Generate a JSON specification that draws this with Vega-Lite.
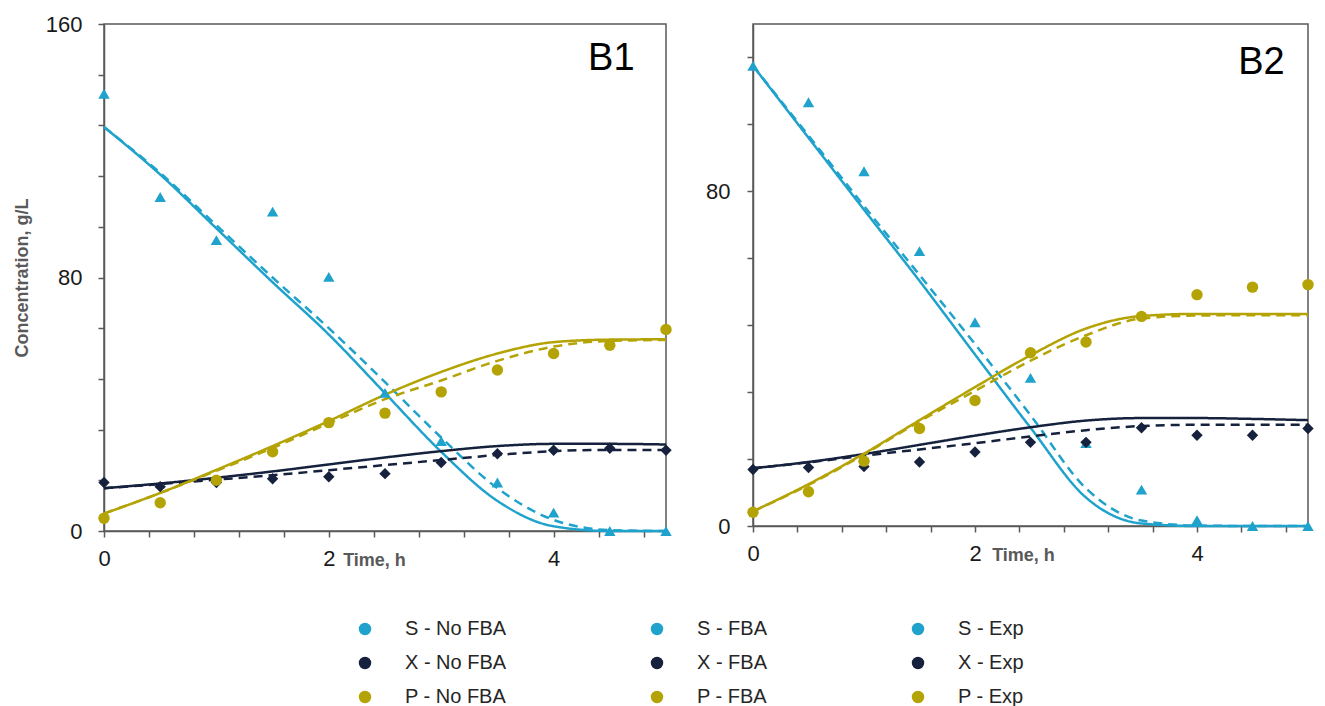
{
  "$schema": "https://vega.github.io/schema/vega-lite/v6.json",
  "padding": {"left": 12, "top": 12, "right": 4, "bottom": 0},
  "datasets": {
    "lines": [
      {"panel":"B1","series":"S - FBA","model":"FBA","t":0,"c":127.5},{"panel":"B1","series":"S - FBA","model":"FBA","t":0.5,"c":112.5},{"panel":"B1","series":"S - FBA","model":"FBA","t":1,"c":95.5},{"panel":"B1","series":"S - FBA","model":"FBA","t":1.5,"c":78.5},{"panel":"B1","series":"S - FBA","model":"FBA","t":2,"c":62},{"panel":"B1","series":"S - FBA","model":"FBA","t":2.5,"c":43.5},{"panel":"B1","series":"S - FBA","model":"FBA","t":3,"c":25},{"panel":"B1","series":"S - FBA","model":"FBA","t":3.5,"c":9.5},{"panel":"B1","series":"S - FBA","model":"FBA","t":4,"c":1.5},{"panel":"B1","series":"S - FBA","model":"FBA","t":4.5,"c":0},{"panel":"B1","series":"S - FBA","model":"FBA","t":5,"c":0},
      {"panel":"B1","series":"S - No FBA","model":"No FBA","t":0,"c":127.5},{"panel":"B1","series":"S - No FBA","model":"No FBA","t":0.5,"c":113},{"panel":"B1","series":"S - No FBA","model":"No FBA","t":1,"c":96.5},{"panel":"B1","series":"S - No FBA","model":"No FBA","t":1.5,"c":80},{"panel":"B1","series":"S - No FBA","model":"No FBA","t":2,"c":64},{"panel":"B1","series":"S - No FBA","model":"No FBA","t":2.5,"c":47},{"panel":"B1","series":"S - No FBA","model":"No FBA","t":3,"c":29.5},{"panel":"B1","series":"S - No FBA","model":"No FBA","t":3.5,"c":13.5},{"panel":"B1","series":"S - No FBA","model":"No FBA","t":4,"c":3.5},{"panel":"B1","series":"S - No FBA","model":"No FBA","t":4.5,"c":0.3},{"panel":"B1","series":"S - No FBA","model":"No FBA","t":5,"c":0},
      {"panel":"B1","series":"X - FBA","model":"FBA","t":0,"c":13.5},{"panel":"B1","series":"X - FBA","model":"FBA","t":0.5,"c":15},{"panel":"B1","series":"X - FBA","model":"FBA","t":1,"c":16.8},{"panel":"B1","series":"X - FBA","model":"FBA","t":1.5,"c":18.8},{"panel":"B1","series":"X - FBA","model":"FBA","t":2,"c":21},{"panel":"B1","series":"X - FBA","model":"FBA","t":2.5,"c":23.2},{"panel":"B1","series":"X - FBA","model":"FBA","t":3,"c":25.2},{"panel":"B1","series":"X - FBA","model":"FBA","t":3.5,"c":26.8},{"panel":"B1","series":"X - FBA","model":"FBA","t":4,"c":27.5},{"panel":"B1","series":"X - FBA","model":"FBA","t":4.5,"c":27.5},{"panel":"B1","series":"X - FBA","model":"FBA","t":5,"c":27.3},
      {"panel":"B1","series":"X - No FBA","model":"No FBA","t":0,"c":13.5},{"panel":"B1","series":"X - No FBA","model":"No FBA","t":0.5,"c":14.8},{"panel":"B1","series":"X - No FBA","model":"No FBA","t":1,"c":16.2},{"panel":"B1","series":"X - No FBA","model":"No FBA","t":1.5,"c":17.6},{"panel":"B1","series":"X - No FBA","model":"No FBA","t":2,"c":19.2},{"panel":"B1","series":"X - No FBA","model":"No FBA","t":2.5,"c":20.8},{"panel":"B1","series":"X - No FBA","model":"No FBA","t":3,"c":22.4},{"panel":"B1","series":"X - No FBA","model":"No FBA","t":3.5,"c":24},{"panel":"B1","series":"X - No FBA","model":"No FBA","t":4,"c":25.2},{"panel":"B1","series":"X - No FBA","model":"No FBA","t":4.5,"c":25.6},{"panel":"B1","series":"X - No FBA","model":"No FBA","t":5,"c":25.6},
      {"panel":"B1","series":"P - FBA","model":"FBA","t":0,"c":5.5},{"panel":"B1","series":"P - FBA","model":"FBA","t":0.5,"c":12},{"panel":"B1","series":"P - FBA","model":"FBA","t":1,"c":19.3},{"panel":"B1","series":"P - FBA","model":"FBA","t":1.5,"c":26.8},{"panel":"B1","series":"P - FBA","model":"FBA","t":2,"c":34.7},{"panel":"B1","series":"P - FBA","model":"FBA","t":2.5,"c":43},{"panel":"B1","series":"P - FBA","model":"FBA","t":3,"c":50.2},{"panel":"B1","series":"P - FBA","model":"FBA","t":3.5,"c":56},{"panel":"B1","series":"P - FBA","model":"FBA","t":4,"c":59.6},{"panel":"B1","series":"P - FBA","model":"FBA","t":4.5,"c":60.4},{"panel":"B1","series":"P - FBA","model":"FBA","t":5,"c":60.5},
      {"panel":"B1","series":"P - No FBA","model":"No FBA","t":0,"c":5.5},{"panel":"B1","series":"P - No FBA","model":"No FBA","t":0.5,"c":12},{"panel":"B1","series":"P - No FBA","model":"No FBA","t":1,"c":19},{"panel":"B1","series":"P - No FBA","model":"No FBA","t":1.5,"c":26.2},{"panel":"B1","series":"P - No FBA","model":"No FBA","t":2,"c":34},{"panel":"B1","series":"P - No FBA","model":"No FBA","t":2.5,"c":41.6},{"panel":"B1","series":"P - No FBA","model":"No FBA","t":3,"c":47.5},{"panel":"B1","series":"P - No FBA","model":"No FBA","t":3.5,"c":53.7},{"panel":"B1","series":"P - No FBA","model":"No FBA","t":4,"c":58.2},{"panel":"B1","series":"P - No FBA","model":"No FBA","t":4.5,"c":60},{"panel":"B1","series":"P - No FBA","model":"No FBA","t":5,"c":60.3},
      {"panel":"B2","series":"S - FBA","model":"FBA","t":0,"c":110},{"panel":"B2","series":"S - FBA","model":"FBA","t":0.5,"c":92.8},{"panel":"B2","series":"S - FBA","model":"FBA","t":1,"c":75.6},{"panel":"B2","series":"S - FBA","model":"FBA","t":1.5,"c":58.6},{"panel":"B2","series":"S - FBA","model":"FBA","t":2,"c":41},{"panel":"B2","series":"S - FBA","model":"FBA","t":2.5,"c":23.5},{"panel":"B2","series":"S - FBA","model":"FBA","t":3,"c":6.8},{"panel":"B2","series":"S - FBA","model":"FBA","t":3.5,"c":0.6},{"panel":"B2","series":"S - FBA","model":"FBA","t":4,"c":0},{"panel":"B2","series":"S - FBA","model":"FBA","t":4.5,"c":0},{"panel":"B2","series":"S - FBA","model":"FBA","t":5,"c":0},
      {"panel":"B2","series":"S - No FBA","model":"No FBA","t":0,"c":110},{"panel":"B2","series":"S - No FBA","model":"No FBA","t":0.5,"c":93.3},{"panel":"B2","series":"S - No FBA","model":"No FBA","t":1,"c":76.5},{"panel":"B2","series":"S - No FBA","model":"No FBA","t":1.5,"c":60},{"panel":"B2","series":"S - No FBA","model":"No FBA","t":2,"c":43.5},{"panel":"B2","series":"S - No FBA","model":"No FBA","t":2.5,"c":26.5},{"panel":"B2","series":"S - No FBA","model":"No FBA","t":3,"c":9},{"panel":"B2","series":"S - No FBA","model":"No FBA","t":3.5,"c":1.3},{"panel":"B2","series":"S - No FBA","model":"No FBA","t":4,"c":0.1},{"panel":"B2","series":"S - No FBA","model":"No FBA","t":4.5,"c":0},{"panel":"B2","series":"S - No FBA","model":"No FBA","t":5,"c":0},
      {"panel":"B2","series":"X - FBA","model":"FBA","t":0,"c":13.8},{"panel":"B2","series":"X - FBA","model":"FBA","t":0.5,"c":15.3},{"panel":"B2","series":"X - FBA","model":"FBA","t":1,"c":17.2},{"panel":"B2","series":"X - FBA","model":"FBA","t":1.5,"c":19.4},{"panel":"B2","series":"X - FBA","model":"FBA","t":2,"c":21.6},{"panel":"B2","series":"X - FBA","model":"FBA","t":2.5,"c":23.6},{"panel":"B2","series":"X - FBA","model":"FBA","t":3,"c":25.2},{"panel":"B2","series":"X - FBA","model":"FBA","t":3.5,"c":25.8},{"panel":"B2","series":"X - FBA","model":"FBA","t":4,"c":25.8},{"panel":"B2","series":"X - FBA","model":"FBA","t":4.5,"c":25.6},{"panel":"B2","series":"X - FBA","model":"FBA","t":5,"c":25.3},
      {"panel":"B2","series":"X - No FBA","model":"No FBA","t":0,"c":13.8},{"panel":"B2","series":"X - No FBA","model":"No FBA","t":0.5,"c":15.2},{"panel":"B2","series":"X - No FBA","model":"No FBA","t":1,"c":16.8},{"panel":"B2","series":"X - No FBA","model":"No FBA","t":1.5,"c":18.3},{"panel":"B2","series":"X - No FBA","model":"No FBA","t":2,"c":19.8},{"panel":"B2","series":"X - No FBA","model":"No FBA","t":2.5,"c":21.4},{"panel":"B2","series":"X - No FBA","model":"No FBA","t":3,"c":22.9},{"panel":"B2","series":"X - No FBA","model":"No FBA","t":3.5,"c":23.9},{"panel":"B2","series":"X - No FBA","model":"No FBA","t":4,"c":24.2},{"panel":"B2","series":"X - No FBA","model":"No FBA","t":4.5,"c":24.2},{"panel":"B2","series":"X - No FBA","model":"No FBA","t":5,"c":24.2},
      {"panel":"B2","series":"P - FBA","model":"FBA","t":0,"c":3.5},{"panel":"B2","series":"P - FBA","model":"FBA","t":0.5,"c":10},{"panel":"B2","series":"P - FBA","model":"FBA","t":1,"c":17.3},{"panel":"B2","series":"P - FBA","model":"FBA","t":1.5,"c":25.3},{"panel":"B2","series":"P - FBA","model":"FBA","t":2,"c":33.2},{"panel":"B2","series":"P - FBA","model":"FBA","t":2.5,"c":40.8},{"panel":"B2","series":"P - FBA","model":"FBA","t":3,"c":47.2},{"panel":"B2","series":"P - FBA","model":"FBA","t":3.5,"c":50.2},{"panel":"B2","series":"P - FBA","model":"FBA","t":4,"c":50.7},{"panel":"B2","series":"P - FBA","model":"FBA","t":4.5,"c":50.7},{"panel":"B2","series":"P - FBA","model":"FBA","t":5,"c":50.7},
      {"panel":"B2","series":"P - No FBA","model":"No FBA","t":0,"c":3.5},{"panel":"B2","series":"P - No FBA","model":"No FBA","t":0.5,"c":9.8},{"panel":"B2","series":"P - No FBA","model":"No FBA","t":1,"c":17.1},{"panel":"B2","series":"P - No FBA","model":"No FBA","t":1.5,"c":25},{"panel":"B2","series":"P - No FBA","model":"No FBA","t":2,"c":32.3},{"panel":"B2","series":"P - No FBA","model":"No FBA","t":2.5,"c":39.5},{"panel":"B2","series":"P - No FBA","model":"No FBA","t":3,"c":45.6},{"panel":"B2","series":"P - No FBA","model":"No FBA","t":3.5,"c":49.6},{"panel":"B2","series":"P - No FBA","model":"No FBA","t":4,"c":50.3},{"panel":"B2","series":"P - No FBA","model":"No FBA","t":4.5,"c":50.4},{"panel":"B2","series":"P - No FBA","model":"No FBA","t":5,"c":50.4}
    ],
    "exp": [
      {"panel":"B1","series":"S - Exp","t":0,"c":138},{"panel":"B1","series":"S - Exp","t":0.5,"c":105.4},{"panel":"B1","series":"S - Exp","t":1,"c":91.8},{"panel":"B1","series":"S - Exp","t":1.5,"c":100.8},{"panel":"B1","series":"S - Exp","t":2,"c":80.2},{"panel":"B1","series":"S - Exp","t":2.5,"c":43.6},{"panel":"B1","series":"S - Exp","t":3,"c":28.4},{"panel":"B1","series":"S - Exp","t":3.5,"c":15.3},{"panel":"B1","series":"S - Exp","t":4,"c":5.8},{"panel":"B1","series":"S - Exp","t":4.5,"c":0},{"panel":"B1","series":"S - Exp","t":5,"c":0},
      {"panel":"B1","series":"X - Exp","t":0,"c":15.3},{"panel":"B1","series":"X - Exp","t":0.5,"c":14},{"panel":"B1","series":"X - Exp","t":1,"c":15.3},{"panel":"B1","series":"X - Exp","t":1.5,"c":16.5},{"panel":"B1","series":"X - Exp","t":2,"c":17.1},{"panel":"B1","series":"X - Exp","t":2.5,"c":18.1},{"panel":"B1","series":"X - Exp","t":3,"c":21.6},{"panel":"B1","series":"X - Exp","t":3.5,"c":24.4},{"panel":"B1","series":"X - Exp","t":4,"c":25.5},{"panel":"B1","series":"X - Exp","t":4.5,"c":26.1},{"panel":"B1","series":"X - Exp","t":5,"c":25.5},
      {"panel":"B1","series":"P - Exp","t":0,"c":4},{"panel":"B1","series":"P - Exp","t":0.5,"c":8.9},{"panel":"B1","series":"P - Exp","t":1,"c":16},{"panel":"B1","series":"P - Exp","t":1.5,"c":25},{"panel":"B1","series":"P - Exp","t":2,"c":34.2},{"panel":"B1","series":"P - Exp","t":2.5,"c":37.2},{"panel":"B1","series":"P - Exp","t":3,"c":43.9},{"panel":"B1","series":"P - Exp","t":3.5,"c":50.8},{"panel":"B1","series":"P - Exp","t":4,"c":56},{"panel":"B1","series":"P - Exp","t":4.5,"c":58.6},{"panel":"B1","series":"P - Exp","t":5,"c":63.6},
      {"panel":"B2","series":"S - Exp","t":0,"c":110},{"panel":"B2","series":"S - Exp","t":0.5,"c":101.3},{"panel":"B2","series":"S - Exp","t":1,"c":84.8},{"panel":"B2","series":"S - Exp","t":1.5,"c":65.7},{"panel":"B2","series":"S - Exp","t":2,"c":48.7},{"panel":"B2","series":"S - Exp","t":2.5,"c":35.4},{"panel":"B2","series":"S - Exp","t":3,"c":19.8},{"panel":"B2","series":"S - Exp","t":3.5,"c":8.7},{"panel":"B2","series":"S - Exp","t":4,"c":1.4},{"panel":"B2","series":"S - Exp","t":4.5,"c":0},{"panel":"B2","series":"S - Exp","t":5,"c":0},
      {"panel":"B2","series":"X - Exp","t":0,"c":13.5},{"panel":"B2","series":"X - Exp","t":0.5,"c":14},{"panel":"B2","series":"X - Exp","t":1,"c":14.2},{"panel":"B2","series":"X - Exp","t":1.5,"c":15.3},{"panel":"B2","series":"X - Exp","t":2,"c":17.7},{"panel":"B2","series":"X - Exp","t":2.5,"c":20},{"panel":"B2","series":"X - Exp","t":3,"c":20},{"panel":"B2","series":"X - Exp","t":3.5,"c":23.5},{"panel":"B2","series":"X - Exp","t":4,"c":21.7},{"panel":"B2","series":"X - Exp","t":4.5,"c":21.7},{"panel":"B2","series":"X - Exp","t":5,"c":23.3},
      {"panel":"B2","series":"P - Exp","t":0,"c":3.3},{"panel":"B2","series":"P - Exp","t":0.5,"c":8.2},{"panel":"B2","series":"P - Exp","t":1,"c":15.5},{"panel":"B2","series":"P - Exp","t":1.5,"c":23.3},{"panel":"B2","series":"P - Exp","t":2,"c":30},{"panel":"B2","series":"P - Exp","t":2.5,"c":41.4},{"panel":"B2","series":"P - Exp","t":3,"c":44},{"panel":"B2","series":"P - Exp","t":3.5,"c":50.1},{"panel":"B2","series":"P - Exp","t":4,"c":55.3},{"panel":"B2","series":"P - Exp","t":4.5,"c":57.1},{"panel":"B2","series":"P - Exp","t":5,"c":57.7}
    ]
  },
  "spacing": 31,
  "hconcat": [
    {
      "width": 562,
      "height": 507,
      "layer": [
        {
          "data": {"name": "lines"},
          "transform": [{"filter": "datum.panel === 'B1'"}],
          "mark": {"type": "line", "strokeWidth": 2.5, "interpolate": "monotone"},
          "encoding": {
            "x": {"field": "t", "type": "quantitative", "title": "Time, h", "scale": {"domain": [0, 5], "nice": false},
              "axis": {"values": [0,0.2,0.4,0.6,0.8,1,1.2,1.4,1.6,1.8,2,2.2,2.4,2.6,2.8,3,3.2,3.4,3.6,3.8,4,4.2,4.4,4.6,4.8,5], "labelExpr": "datum.value % 1 === 0 ? format(datum.value, 'd') : ''", "labelOverlap": false, "labelPadding": 11, "titleX": 270, "titleY": 34, "titleBaseline": "alphabetic"}},
            "y": {"field": "c", "type": "quantitative", "title": "Concentration, g/L", "scale": {"domain": [0, 160], "nice": false},
              "axis": {"values": [0,4,8,12,16,20,24,28,32,36,40,44,48,52,56,60,64,68,72,76,80,84,88,92,96,100,104,108,112,116,120,124,128,132,136,140,144,148,152,156,160], "labelExpr": "datum.value % 20 === 0 ? format(datum.value, 'd') : ''", "labelOverlap": false, "labelPadding": 16, "titlePadding": 14}},
            "color": {"field": "series", "type": "nominal",
              "scale": {"domain": ["S - No FBA","X - No FBA","P - No FBA","S - FBA","X - FBA","P - FBA","S - Exp","X - Exp","P - Exp"],
                        "range": ["#1FA2CB","#15213D","#B4A304","#1FA2CB","#15213D","#B4A304","#1FA2CB","#15213D","#B4A304"]},
              "legend": {"orient": "none", "legendX": 251, "legendY": 595, "columns": 3, "title": null,
                "symbolSize": 120, "labelFontSize": 20, "labelFont": "Liberation Sans", "labelColor": "#262626",
                "labelOffset": 30, "columnPadding": 140, "rowPadding": 14}},
            "strokeDash": {"field": "model", "type": "nominal", "scale": {"domain": ["No FBA", "FBA"], "range": [[9, 6], [1, 0]]}, "legend": null}
          }
        },
        {
          "data": {"name": "exp"},
          "transform": [{"filter": "datum.panel === 'B1'"}],
          "mark": {"type": "point", "filled": true, "opacity": 1, "size": 130},
          "encoding": {
            "x": {"field": "t", "type": "quantitative", "title": "Time, h"},
            "y": {"field": "c", "type": "quantitative", "title": "Concentration, g/L"},
            "color": {"field": "series", "type": "nominal"},
            "shape": {"field": "series", "type": "nominal", "scale": {"domain": ["S - Exp","X - Exp","P - Exp"], "range": ["triangle-up","diamond","circle"]}, "legend": null}
          }
        },
        {
          "data": {"values": [{"label": "B1"}]},
          "mark": {"type": "text", "align": "right", "baseline": "middle", "fontSize": 38, "font": "Liberation Sans", "color": "#000000"},
          "encoding": {
            "x": {"datum": 4.72, "type": "quantitative"},
            "y": {"datum": 149, "type": "quantitative"},
            "text": {"field": "label"}
          }
        }
      ]
    },
    {
      "width": 555,
      "height": 502,
      "layer": [
        {
          "data": {"name": "lines"},
          "transform": [{"filter": "datum.panel === 'B2'"}],
          "mark": {"type": "line", "strokeWidth": 2.5, "interpolate": "monotone"},
          "encoding": {
            "x": {"field": "t", "type": "quantitative", "title": "Time, h", "scale": {"domain": [0, 5], "nice": false},
              "axis": {"values": [0,0.2,0.4,0.6,0.8,1,1.2,1.4,1.6,1.8,2,2.2,2.4,2.6,2.8,3,3.2,3.4,3.6,3.8,4,4.2,4.4,4.6,4.8,5], "labelExpr": "datum.value % 1 === 0 ? format(datum.value, 'd') : ''", "labelOverlap": false, "labelPadding": 11, "titleX": 270, "titleY": 34, "titleBaseline": "alphabetic"}},
            "y": {"field": "c", "type": "quantitative", "title": null, "scale": {"domain": [0, 120], "nice": false},
              "axis": {"values": [0,4,8,12,16,20,24,28,32,36,40,44,48,52,56,60,64,68,72,76,80,84,88,92,96,100,104,108,112,116,120], "labelExpr": "datum.value % 20 === 0 ? format(datum.value, 'd') : ''", "labelOverlap": false, "labelPadding": 17}},
            "color": {"field": "series", "type": "nominal"},
            "strokeDash": {"field": "model", "type": "nominal", "legend": null}
          }
        },
        {
          "data": {"name": "exp"},
          "transform": [{"filter": "datum.panel === 'B2'"}],
          "mark": {"type": "point", "filled": true, "opacity": 1, "size": 130},
          "encoding": {
            "x": {"field": "t", "type": "quantitative", "title": "Time, h"},
            "y": {"field": "c", "type": "quantitative", "title": null},
            "color": {"field": "series", "type": "nominal"},
            "shape": {"field": "series", "type": "nominal", "legend": null}
          }
        },
        {
          "data": {"values": [{"label": "B2"}]},
          "mark": {"type": "text", "align": "right", "baseline": "middle", "fontSize": 38, "font": "Liberation Sans", "color": "#000000"},
          "encoding": {
            "x": {"datum": 4.79, "type": "quantitative"},
            "y": {"datum": 110.7, "type": "quantitative"},
            "text": {"field": "label"}
          }
        }
      ]
    }
  ],
  "config": {
    "font": "Liberation Sans",
    "view": {"stroke": "#595959", "strokeWidth": 1.5},
    "axis": {"domainColor": "#595959", "domainWidth": 1.5, "tickColor": "#595959", "tickWidth": 1.5, "tickSize": 6, "grid": false,
      "labelFont": "Liberation Sans", "labelFontSize": 22, "labelColor": "#1a1a1a", "labelFlush": false,
      "titleFont": "Liberation Sans", "titleFontSize": 18, "titleFontWeight": "bold", "titleColor": "#595959"}
  }
}
